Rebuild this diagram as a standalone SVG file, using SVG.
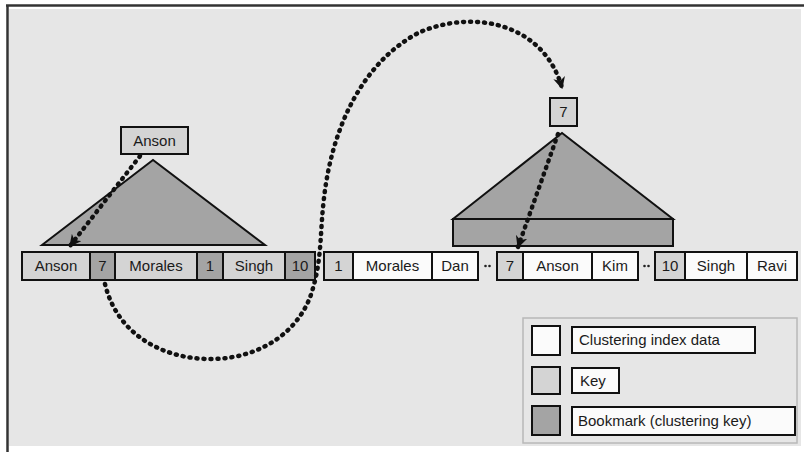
<svg xmlns="http://www.w3.org/2000/svg" width="804" height="452" viewBox="0 0 804 452">
  <defs>
    <style>
      .cell { stroke: #111; stroke-width: 2; }
      .data { fill: #fbfbfb; }
      .key { fill: #d4d4d4; }
      .mark { fill: #a4a4a4; }
      .lbl { font-family: "Liberation Sans", Arial, sans-serif; font-size: 15px; fill: #1a1a1a; text-anchor: middle; }
      .lgl { font-family: "Liberation Sans", Arial, sans-serif; font-size: 15px; fill: #1a1a1a; }
      .dots { fill: none; stroke: #111; stroke-width: 4.5; stroke-linecap: round; stroke-dasharray: 1 6; }
      .tri { stroke: #111; stroke-width: 2; stroke-linejoin: miter; }
    </style>
    <marker id="arrow" viewBox="0 0 10 10" refX="9" refY="5" markerWidth="12" markerHeight="12" markerUnits="userSpaceOnUse" orient="auto">
      <path d="M0,0 L10,5 L0,10 L3,5 Z" fill="#111"/>
    </marker>
  </defs>

  <!-- page and panel -->
  <rect x="0" y="0" width="804" height="452" fill="#ffffff"/>
  <rect x="9" y="9" width="792" height="437" fill="#e6e6e6"/>
  <line x1="7.5" y1="5" x2="7.5" y2="452" stroke="#333" stroke-width="2.5"/>
  <line x1="6" y1="5.5" x2="804" y2="5.5" stroke="#333" stroke-width="2.5"/>

  <!-- left index tree -->
  <g id="tree-left">
    <polygon class="tri mark" points="42,245 153,160 265,245"/>
  </g>
  <g id="root-anson">
    <rect class="cell key" x="121" y="127" width="67" height="27"/>
    <text class="lbl" x="154.5" y="146">Anson</text>
  </g>

  <!-- nonclustered leaf row -->
  <g id="leaf-row">
    <rect class="cell key" x="22" y="252" width="68" height="28"/>
    <text class="lbl" x="56" y="271">Anson</text>
    <rect class="cell mark" x="90" y="252" width="25" height="28"/>
    <text class="lbl" x="102.5" y="271">7</text>
    <rect class="cell key" x="115" y="252" width="82" height="28"/>
    <text class="lbl" x="156" y="271">Morales</text>
    <rect class="cell mark" x="197" y="252" width="26" height="28"/>
    <text class="lbl" x="210" y="271">1</text>
    <rect class="cell key" x="223" y="252" width="62" height="28"/>
    <text class="lbl" x="254" y="271">Singh</text>
    <rect class="cell mark" x="285" y="252" width="30" height="28"/>
    <text class="lbl" x="300" y="271">10</text>
  </g>

  <!-- clustered index tree -->
  <g id="tree-right">
    <polygon class="tri mark" points="453,219 562,133 673,219"/>
    <rect class="cell mark" x="453" y="219" width="220" height="27"/>
  </g>
  <g id="root-7">
    <rect class="cell key" x="550" y="98" width="27" height="28"/>
    <text class="lbl" x="563.5" y="117">7</text>
  </g>

  <!-- clustered data rows -->
  <g id="row-1">
    <rect class="cell key" x="324" y="252" width="29" height="28"/>
    <text class="lbl" x="338.5" y="271">1</text>
    <rect class="cell data" x="353" y="252" width="79" height="28"/>
    <text class="lbl" x="392.5" y="271">Morales</text>
    <rect class="cell data" x="432" y="252" width="46" height="28"/>
    <text class="lbl" x="455" y="271">Dan</text>
  </g>
  <g id="row-7">
    <rect class="cell key" x="497" y="252" width="26" height="28"/>
    <text class="lbl" x="510" y="271">7</text>
    <rect class="cell data" x="523" y="252" width="69" height="28"/>
    <text class="lbl" x="557.5" y="271">Anson</text>
    <rect class="cell data" x="592" y="252" width="46" height="28"/>
    <text class="lbl" x="615" y="271">Kim</text>
  </g>
  <g id="row-10">
    <rect class="cell key" x="655" y="252" width="30" height="28"/>
    <text class="lbl" x="670" y="271">10</text>
    <rect class="cell data" x="685" y="252" width="62" height="28"/>
    <text class="lbl" x="716" y="271">Singh</text>
    <rect class="cell data" x="747" y="252" width="50" height="28"/>
    <text class="lbl" x="772" y="271">Ravi</text>
  </g>

  <!-- row gaps -->
  <g id="gaps" fill="#222">
    <circle cx="485.5" cy="266" r="1.3"/>
    <circle cx="489.5" cy="266" r="1.3"/>
    <circle cx="644.5" cy="266" r="1.3"/>
    <circle cx="648.5" cy="266" r="1.3"/>
  </g>

  <!-- connectors -->
  <g id="connectors">
    <path class="dots" d="M140,156 L70,246" marker-end="url(#arrow)"/>
    <path class="dots" d="M105,284 C118,338 168,360 213,359 C262,358 302,330 313,288 C322,258 320,230 324,198 C332,128 362,62 420,32 C478,8 545,26 562,88" marker-end="url(#arrow)"/>
    <path class="dots" d="M558,134 L518,247" marker-end="url(#arrow)"/>
  </g>

  <!-- legend -->
  <g id="legend">
    <rect x="523" y="318" width="274" height="125" fill="#e6e6e6" stroke="#b8b8b8" stroke-width="1.5"/>
    <rect class="cell data" x="532" y="326" width="28" height="29"/>
    <rect class="cell data" x="572" y="327" width="183" height="26"/>
    <text class="lgl" x="579" y="345">Clustering index data</text>
    <rect class="cell key" x="532" y="367" width="28" height="27"/>
    <rect class="cell data" x="572" y="368" width="47" height="25"/>
    <text class="lgl" x="580" y="386">Key</text>
    <rect class="cell mark" x="532" y="406" width="28" height="29"/>
    <rect class="cell data" x="572" y="407" width="223" height="28"/>
    <text class="lgl" x="578" y="426">Bookmark (clustering key)</text>
  </g>
</svg>
